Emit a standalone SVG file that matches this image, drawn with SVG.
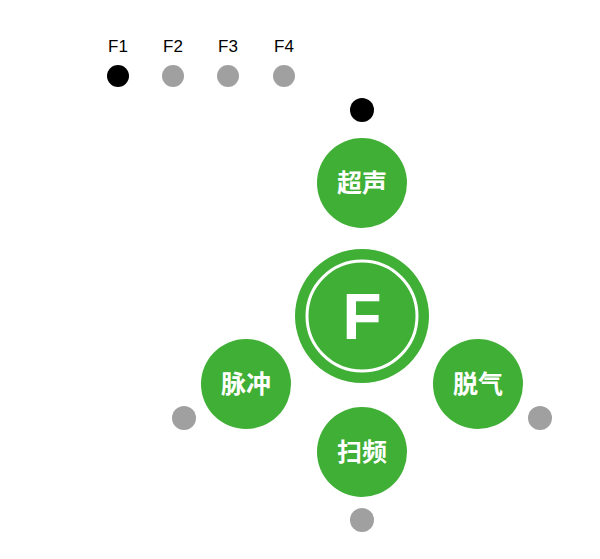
<svg xmlns="http://www.w3.org/2000/svg" width="600" height="559" viewBox="0 0 600 559">
<style>
.lbl{font-family:"Liberation Sans",Arial,sans-serif;font-size:17px;fill:#000;text-anchor:middle}
.g{fill:#3faf35}
.t{font-family:"Liberation Sans","Noto Sans CJK SC",sans-serif;font-size:25px;font-weight:bold;fill:#fff;text-anchor:middle}
.grey{fill:#a0a0a0}
</style>
<rect width="600" height="559" fill="#fff"/>
<g id="legend">
<text class="lbl" x="118" y="52">F1</text><text class="lbl" x="173" y="52">F2</text><text class="lbl" x="228" y="52">F3</text><text class="lbl" x="284" y="52">F4</text>
<circle cx="118" cy="76" r="11" fill="#000"/><circle class="grey" cx="173" cy="76" r="11"/><circle class="grey" cx="228" cy="76" r="11"/><circle class="grey" cx="284" cy="76" r="11"/>
</g>
<g id="connectors"></g>
<g id="center"><circle class="g" cx="362" cy="316" r="67"/><circle cx="362" cy="316" r="55" fill="none" stroke="#fff" stroke-width="3"/><text x="362" y="339" text-anchor="middle" font-family="Liberation Sans,sans-serif" font-weight="bold" font-size="64" fill="#fff">F</text></g>
<g id="n1"><circle cx="362" cy="110" r="12" fill="#000"/><circle class="g" cx="362" cy="183" r="45"/><text class="t" x="362" y="192">超声</text></g>
<g id="n2"><circle class="grey" cx="184" cy="418" r="12"/><circle class="g" cx="246" cy="384" r="45"/><text class="t" x="246" y="393">脉冲</text></g>
<g id="n3"><circle class="grey" cx="540" cy="418" r="12"/><circle class="g" cx="478" cy="384" r="45"/><text class="t" x="478" y="393">脱气</text></g>
<g id="n4"><circle class="grey" cx="362" cy="520" r="12"/><circle class="g" cx="362" cy="452" r="45"/><text class="t" x="362" y="461">扫频</text></g>
</svg>
